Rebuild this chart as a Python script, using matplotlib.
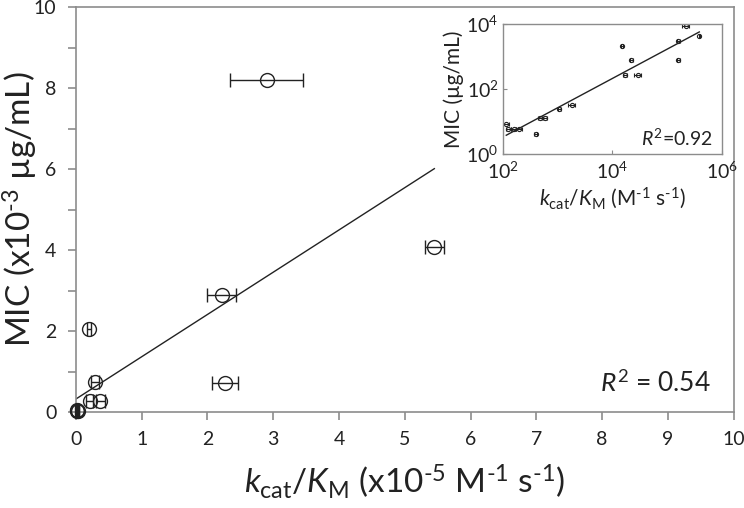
import numpy as np
import matplotlib
matplotlib.use("Agg")
import matplotlib.pyplot as plt

plt.rcParams['font.family'] = ['Lato', 'DejaVu Sans']
plt.rcParams['mathtext.fontset'] = 'custom'
plt.rcParams['mathtext.rm'] = 'Lato'
plt.rcParams['mathtext.it'] = 'Lato:italic'

# main panel data (x10^-5 M^-1 s^-1, x10^-3 ug/mL)
kcat_km = [2.90, 5.45, 2.22, 2.27, 0.20, 0.29, 0.21, 0.37, 0.01, 0.02, 0.03]
kcat_km_err = [0.56, 0.14, 0.22, 0.20, 0.03, 0.06, 0.05, 0.07, 0.02, 0.02, 0.02]
mic = [8.2, 4.08, 2.9, 0.72, 2.05, 0.74, 0.27, 0.27, 0.03, 0.06, 0.02]
fit_slope = 1.044
fit_intercept = 0.32
r2_main = 0.54

# inset data (log-log)
in_x = [115, 126, 157, 195, 395, 475, 590, 1070, 1820, 15200, 17300,
        22400, 28900, 162000, 162000, 222000, 390000]
in_xerr = [15, 12, 18, 25, 20, 40, 60, 60, 250, 800, 1500,
           1500, 4000, 12000, 8000, 30000, 10000]
in_mic = [8.6, 5.9, 5.9, 5.9, 4.1, 12.3, 12.3, 24, 33, 2050, 263,
          750, 263, 2950, 750, 8500, 4200]
in_fit_a = -1.28
in_fit_b = 0.90
r2_inset = 0.92

spine_col = '#8c8c8c'
ink = '#222222'

fig = plt.figure(figsize=(7.44, 5.08), dpi=100)
ax = fig.add_axes([0.102, 0.189, 0.884, 0.797])

ax.errorbar(kcat_km, mic, xerr=kcat_km_err, fmt='o', mfc='none', mec=ink,
            ecolor=ink, ms=10, mew=1.0, elinewidth=1.0, capsize=5, capthick=1.0,
            clip_on=False, zorder=3)
xf = np.array([0, max(kcat_km)])
ax.plot(xf, fit_intercept + fit_slope * xf, color=ink, lw=1.0)

ax.set_xlim(0, 10)
ax.set_ylim(0, 10)
ax.set_xticks(range(0, 11))
ax.set_yticks(range(0, 11, 2))
ax.set_yticks(range(1, 11, 2), minor=True)
for s in ax.spines.values():
    s.set_color(spine_col)
    s.set_linewidth(1.2)
ax.tick_params(which='both', direction='out', length=6, width=1.2, color=spine_col,
               labelsize=14, labelcolor=ink, pad=8)
ax.set_xlabel(r'$\mathit{k}_{\rm cat}/\mathit{K}_{\rm M}$ (x10$^{\text{-5}}$ M$^{\text{-1}}$ s$^{\text{-1}}$)',
              fontsize=24, color=ink, labelpad=10)
ax.set_ylabel(r'MIC (x10$^{\text{-3}}$ µg/mL)', fontsize=24, color=ink)
ax.yaxis.set_label_coords(-0.054, 0.5)
ax.text(0.965, 0.07, r'$\mathit{R}^{2}$ = %.2f' % r2_main, transform=ax.transAxes,
        ha='right', va='center', fontsize=19, color=ink)

# inset
ins = fig.add_axes([0.676, 0.697, 0.294, 0.256])
ins.errorbar(in_x, in_mic, xerr=in_xerr, fmt='o', mfc='none', mec=ink, ecolor=ink,
             ms=3, mew=0.8, elinewidth=0.8, capsize=1.5, capthick=0.8)
xi = np.array([min(in_x), max(in_x)])
ins.plot(xi, 10 ** (in_fit_a + in_fit_b * np.log10(xi)), color=ink, lw=1.0)
ins.set_xscale('log')
ins.set_yscale('log')
ins.set_xlim(1e2, 1e6)
ins.set_ylim(1e0, 1e4)
ins.set_xticks([1e2, 1e4, 1e6])
ins.set_yticks([1e0, 1e2, 1e4])
ins.set_xticklabels([r'10$^{2}$', r'10$^{4}$', r'10$^{6}$'])
ins.set_yticklabels([r'10$^{0}$', r'10$^{2}$', r'10$^{4}$'])
for s in ins.spines.values():
    s.set_color(spine_col)
    s.set_linewidth(1.0)
ins.tick_params(which='major', direction='in', length=3, width=0.8, color=spine_col,
                labelsize=14, labelcolor=ink)
ins.tick_params(axis='x', which='major', pad=5)
ins.tick_params(axis='y', which='major', pad=3)
ins.tick_params(which='minor', direction='in', length=1.5, width=0.6, color=spine_col)
ins.set_xlabel(r'$\mathit{k}_{\rm cat}/\mathit{K}_{\rm M}$ (M$^{\text{-1}}$ s$^{\text{-1}}$)',
               fontsize=15, color=ink, labelpad=2)
ins.set_ylabel('MIC (µg/mL)', fontsize=15, color=ink, labelpad=2)
ins.text(0.96, 0.12, r'$\mathit{R}^{2}$=%.2f' % r2_inset, transform=ins.transAxes,
         ha='right', va='center', fontsize=14, color=ink)

fig.savefig('out.png', dpi=100)
